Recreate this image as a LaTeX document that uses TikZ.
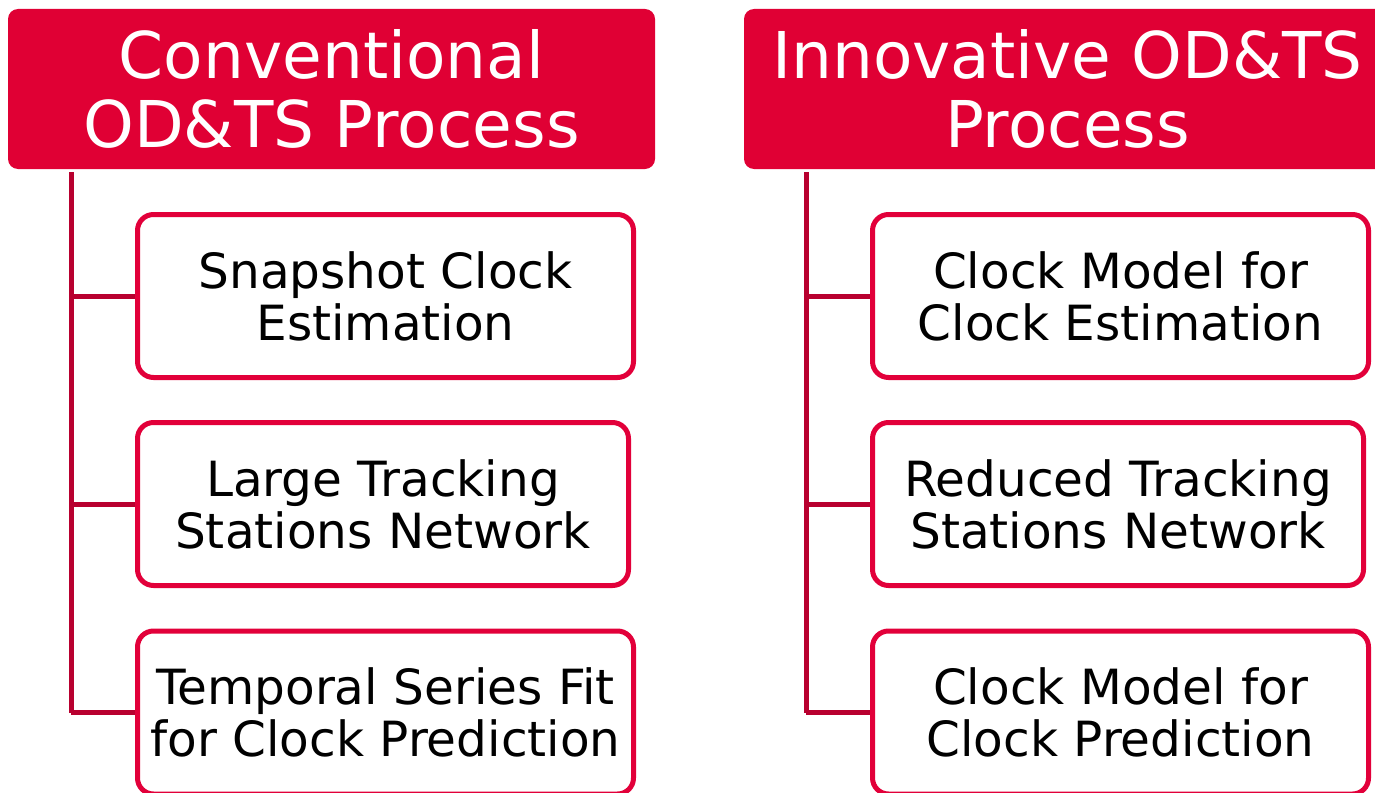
\documentclass[tikz,border=0pt]{standalone}
\usepackage{fontspec}
\setmainfont{DejaVu Sans}
\definecolor{headred}{HTML}{E00034}
\definecolor{boxred}{HTML}{E2003A}
\definecolor{linkred}{HTML}{B8002F}
\tikzset{
  head/.style={fill=headred, draw=none, rounded corners=10pt, text=white,
    minimum width=647pt, minimum height=160pt, align=center,
    font=\fontsize{64.5}{69}\selectfont, inner sep=0pt},
  stepbox/.style={draw=boxred, line width=5pt, fill=white, rounded corners=16pt,
    minimum height=163pt, align=center, font=\fontsize{48.5}{52}\selectfont, inner sep=0pt},
  link/.style={draw=linkred, line width=5pt}
}
\begin{document}
\begin{tikzpicture}[x=1pt,y=-1pt]
\useasboundingbox (0,0) rectangle (1375,792);
\clip (0,0) rectangle (1375,792);
% left column
\node[head] (h1) at (331.5,89) {Conventional\\OD\&TS Process};
\node[stepbox, minimum width=496pt] (l1) at (385.5,296) {Snapshot Clock\\Estimation};
\node[stepbox, minimum width=491pt] (l2) at (383,504) {Large Tracking\\Stations Network};
\node[stepbox, minimum width=496pt] (l3) at (385.5,712.5) {Temporal Series Fit\\for Clock Prediction};
\coordinate (lt) at (71,172);
\draw[link] (lt) -- (lt |- l3.west);
\draw[link] (lt |- l1.west) -- (l1.west);
\draw[link] (lt |- l2.west) -- (l2.west);
\draw[link] (lt |- l3.west) -- (l3.west);
% right column
\node[head] (h2) at (1067.5,89) {Innovative OD\&TS\\Process};
\node[stepbox, minimum width=496pt] (r1) at (1120.5,296) {Clock Model for\\Clock Estimation};
\node[stepbox, minimum width=491pt] (r2) at (1118,504) {Reduced Tracking\\Stations Network};
\node[stepbox, minimum width=496pt] (r3) at (1120.5,712.5) {Clock Model for\\Clock Prediction};
\coordinate (rt) at (806,172);
\draw[link] (rt) -- (rt |- r3.west);
\draw[link] (rt |- r1.west) -- (r1.west);
\draw[link] (rt |- r2.west) -- (r2.west);
\draw[link] (rt |- r3.west) -- (r3.west);
\end{tikzpicture}
\end{document}
